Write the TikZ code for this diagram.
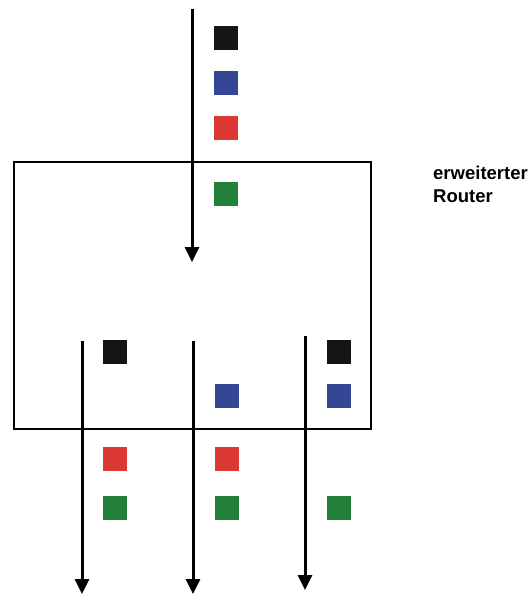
\documentclass[tikz,border=0pt]{standalone}
\usepackage{fontspec}
\setmainfont{Liberation Sans}
\usetikzlibrary{arrows.meta}
\definecolor{sqblack}{HTML}{151515}
\definecolor{sqblue}{HTML}{354794}
\definecolor{sqred}{HTML}{DC3833}
\definecolor{sqgreen}{HTML}{22803A}
\tikzset{
  pkt/.style={draw=none, fill=#1, minimum size=24pt, inner sep=0pt, outer sep=0pt, anchor=north west},
  flow/.style={line width=3pt, -{Triangle[width=14pt,length=15pt]}},
  box/.style={draw, line width=1.5pt},
  lbl/.style={font=\bfseries\fontsize{18.5}{23}\selectfont, align=left, anchor=base west, inner sep=0pt}
}
\begin{document}
\begin{tikzpicture}[x=1pt,y=-1pt]
\useasboundingbox (0,0) rectangle (531,594);
% router box
\node[box, minimum width=357pt, minimum height=267pt, anchor=north west, inner sep=0pt] (router) at (13,161) {};
\node[lbl] (label) at (433,202) {erweiterter\\Router};
% top flow
\coordinate (inTop) at (192,9);
\coordinate (inEnd) at (192,262);
\draw[flow] (inTop) -- (inEnd);
\node[pkt=sqblack] (tk) at (214,26) {};
\node[pkt=sqblue] (tb) at (214,71) {};
\node[pkt=sqred] (tr) at (214,116) {};
\node[pkt=sqgreen] (tg) at (214,182) {};
% outgoing flows
\coordinate (o1s) at (82,341);
\coordinate (o1e) at (82,594);
\coordinate (o2s) at (193,341);
\coordinate (o2e) at (193,594);
\coordinate (o3s) at (305,336);
\coordinate (o3e) at (305,590);
\draw[flow] (o1s) -- (o1e);
\draw[flow] (o2s) -- (o2e);
\draw[flow] (o3s) -- (o3e);
% left column
\node[pkt=sqblack] (lk) at (103,340) {};
\node[pkt=sqred] (lr) at (103,447) {};
\node[pkt=sqgreen] (lg) at (103,496) {};
% middle column
\node[pkt=sqblue] (mb) at (215,384) {};
\node[pkt=sqred] (mr) at (215,447) {};
\node[pkt=sqgreen] (mg) at (215,496) {};
% right column
\node[pkt=sqblack] (rk) at (327,340) {};
\node[pkt=sqblue] (rb) at (327,384) {};
\node[pkt=sqgreen] (rg) at (327,496) {};
\end{tikzpicture}
\end{document}
